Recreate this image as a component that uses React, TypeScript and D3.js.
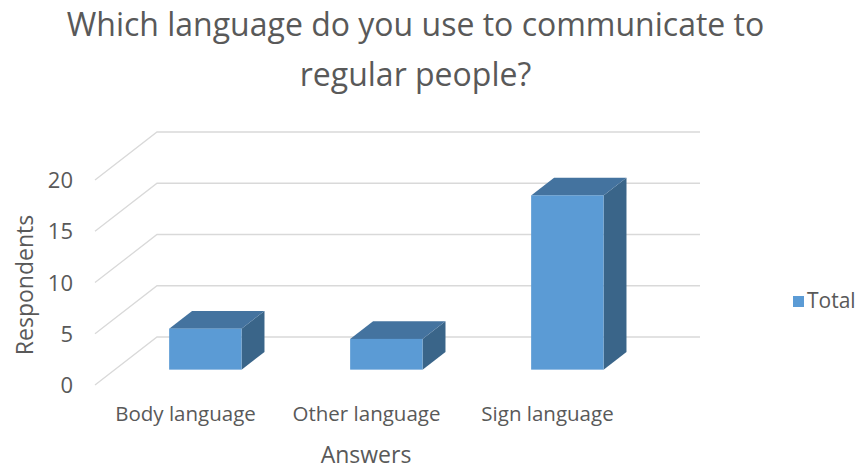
import React from "react";
import * as d3 from "d3";

const categories = ["Body language", "Other language", "Sign language"];
const values = [4, 3, 17];
const yTicks = [0, 5, 10, 15, 20];
const seriesName = "Total";
const titleLines = ["Which language do you use to communicate to", "regular people?"];
const xTitle = "Answers";
const yTitle = "Respondents";

const W = 861;
const H = 471;
const FONT = "'Open Sans', sans-serif";
const TXT = "#595959";
const GRID = "#d9d9d9";
const FRONT = "#5b9bd5";
const TOP = "#44739f";
const SIDE = "#3a6589";

export default function App() {
  const x = d3.scaleBand<string>().domain(categories).range([95, 638]).paddingInner(0.6).paddingOuter(0.3);
  const y = d3.scaleLinear().domain([0, 20]).range([385, 180]);
  const DX = 62;
  const DY = -48;
  const f0 = 0.32;
  const f1 = 0.69;
  const backRight = 700;

  const pts = (a: number[][]) => a.map((p) => p.join(",")).join(" ");

  return (
    <svg width={W} height={H} style={{ position: "absolute", left: 0, top: 0, background: "#fff" }}>
      <rect x={0} y={0} width={W} height={H} fill="#fff" />
      {titleLines.map((t, i) => (
        <text key={t} x={W / 2 - 15} y={36 + i * 50} textAnchor="middle" fontFamily={FONT} fontSize={32} fill={TXT}>
          {t}
        </text>
      ))}
      {yTicks.map((t) => {
        const yf = y(t);
        return (
          <g key={t}>
            <polyline
              points={pts([[95, yf], [95 + DX, yf + DY], [backRight, yf + DY]])}
              fill="none"
              stroke={GRID}
              strokeWidth={1.3}
            />
            <text x={73} y={yf + 8} textAnchor="end" fontFamily={FONT} fontSize={22} fill={TXT}>
              {t}
            </text>
          </g>
        );
      })}
      {categories.map((c, i) => {
        const bw = x.bandwidth();
        const x0 = (x(c) as number) + f0 * DX;
        const yb = y(0) + f0 * DY;
        const h = y(0) - y(values[i]);
        const yt = yb - h;
        const ddx = (f1 - f0) * DX;
        const ddy = (f1 - f0) * DY;
        return (
          <g key={c}>
            <polygon points={pts([[x0 + bw, yt], [x0 + bw + ddx, yt + ddy], [x0 + bw + ddx, yb + ddy], [x0 + bw, yb]])} fill={SIDE} />
            <polygon points={pts([[x0, yt], [x0 + ddx, yt + ddy], [x0 + bw + ddx, yt + ddy], [x0 + bw, yt]])} fill={TOP} />
            <rect x={x0} y={yt} width={bw} height={h} fill={FRONT} />
          </g>
        );
      })}
      {categories.map((c) => (
        <text key={c} x={(x(c) as number) + x.bandwidth() / 2} y={421} textAnchor="middle" fontFamily={FONT} fontSize={20.5} fill={TXT}>
          {c}
        </text>
      ))}
      <text x={366} y={463} textAnchor="middle" fontFamily={FONT} fontSize={23} fill={TXT}>
        {xTitle}
      </text>
      <text transform={`translate(33,285) rotate(-90)`} textAnchor="middle" fontFamily={FONT} fontSize={23} fill={TXT}>
        {yTitle}
      </text>
      <rect x={793} y={296} width={11} height={11} fill={FRONT} />
      <text x={807} y={308} fontFamily={FONT} fontSize={21} fill={TXT}>
        {seriesName}
      </text>
    </svg>
  );
}
